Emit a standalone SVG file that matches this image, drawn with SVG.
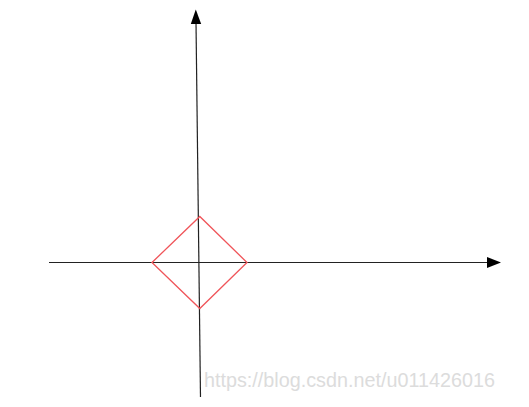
<svg xmlns="http://www.w3.org/2000/svg" width="529" height="407" viewBox="0 0 529 407">
<style>
.axis{stroke:#222;stroke-width:1.2;fill:none}
.head{fill:#000}
.shape{stroke:#f0555a;stroke-width:1.3;fill:none}
.wm{font-family:"Liberation Sans",Arial,sans-serif;font-size:19.5px;fill:#dcdcdc}
</style>
<rect width="529" height="407" fill="#fff"/>
<g id="connectors">
<line class="axis" x1="49" y1="262.5" x2="488" y2="262.5"/>
<polygon class="head" points="501,262.5 487,257 487,268"/>
<line class="axis" x1="200.5" y1="397" x2="196" y2="22"/>
<polygon class="head" points="195.8,9.5 190.8,24 201.2,24"/>
</g>
<g id="diamond">
<polygon class="shape" points="152,262.5 199.8,216.5 247,262.5 199.8,308.5"/>
</g>
<text class="wm" x="204" y="387" textLength="291" lengthAdjust="spacingAndGlyphs">https://blog.csdn.net/u011426016</text>
</svg>
